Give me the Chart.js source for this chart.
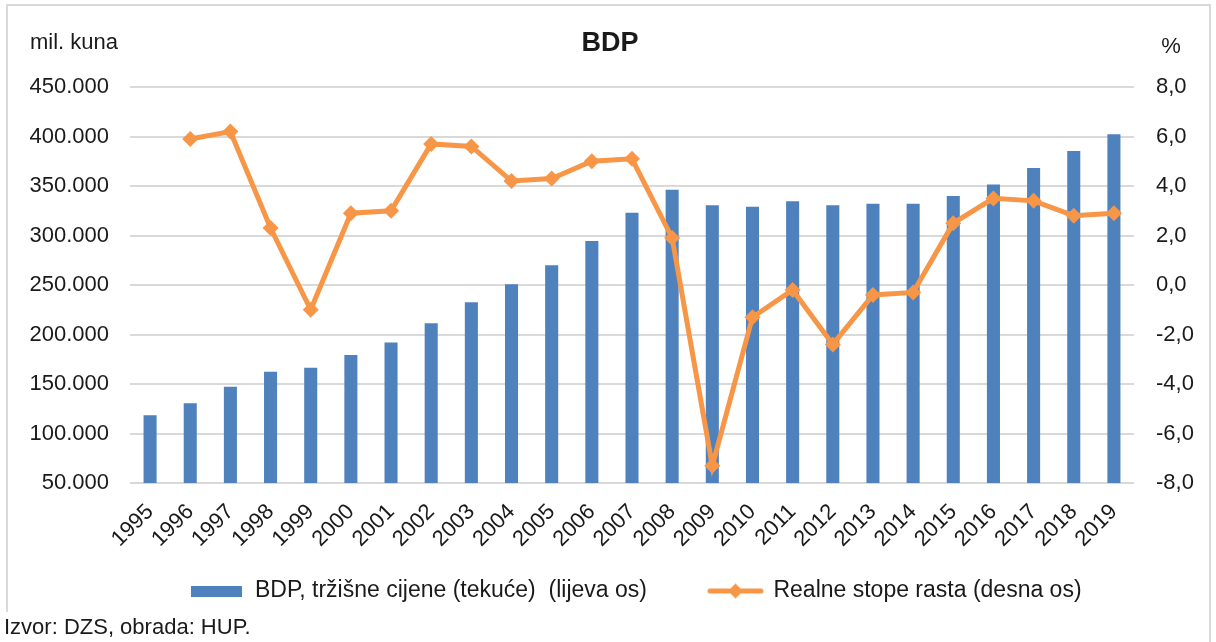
<!DOCTYPE html>
<html>
<head>
<meta charset="utf-8">
<title>BDP</title>
<script src="https://cdn.jsdelivr.net/npm/chart.js@4.4.1/dist/chart.umd.min.js"></script>
<style>
  html, body { margin: 0; padding: 0; background: #fff; }
  #wrap { width: 1216px; height: 642px; }
</style>
</head>
<body>
<div id="wrap"><canvas id="bdpChart" width="1216" height="642"></canvas></div>
<script>
// Data
const years = ['1995', '1996', '1997', '1998', '1999', '2000', '2001', '2002', '2003', '2004',
  '2005', '2006', '2007', '2008', '2009', '2010', '2011', '2012', '2013', '2014',
  '2015', '2016', '2017', '2018', '2019'];

// BDP, market prices (current), mil. kuna
const bdp = [118500, 130500, 147300, 162400, 166500, 179300, 192000, 211300, 232500, 250700,
  269900, 294400, 323000, 346300, 330500, 329100, 334500, 330500, 332100, 332000,
  339900, 351400, 368200, 385400, 402200];

// real growth rates, %
const growth = [null, 5.9, 6.2, 2.3, -1.0, 2.9, 3.0, 5.7, 5.6, 4.2,
  4.3, 5.0, 5.1, 1.9, -7.3, -1.3, -0.2, -2.4, -0.4, -0.3,
  2.5, 3.5, 3.4, 2.8, 2.9];

const leftRange = { min: 50000, max: 450000, step: 50000 };
const rightRange = { min: -8, max: 8, step: 2 };

const labels = {
  title: 'BDP',
  leftUnit: 'mil. kuna',
  rightUnit: '%',
  bars: 'BDP, tržišne cijene (tekuće)  (lijeva os)',
  line: 'Realne stope rasta (desna os)',
  source: 'Izvor: DZS, obrada: HUP.'
};

const BLUE = '#4F81BD';
const ORANGE = '#F79646';
const GRID = '#D9D9D9';
const TEXT = '#1a1a1a';
const FONT = "'Liberation Sans', Arial, sans-serif";

// legend swatches
function barSwatch() {
  const c = document.createElement('canvas');
  c.width = 51; c.height = 11;
  const g = c.getContext('2d');
  g.fillStyle = BLUE;
  g.fillRect(0, 0, 51, 11);
  return c;
}
function lineSwatch() {
  const c = document.createElement('canvas');
  c.width = 57; c.height = 17;
  const g = c.getContext('2d');
  g.strokeStyle = ORANGE;
  g.lineWidth = 5;
  g.lineCap = 'round';
  g.beginPath();
  g.moveTo(3, 8.5);
  g.lineTo(54, 8.5);
  g.stroke();
  g.fillStyle = ORANGE;
  g.beginPath();
  g.moveTo(28.5, 1);
  g.lineTo(36, 8.5);
  g.lineTo(28.5, 16);
  g.lineTo(21, 8.5);
  g.closePath();
  g.fill();
  return c;
}
const swatches = [barSwatch(), lineSwatch()];

const fmtThousands = v => String(v).replace(/\B(?=(\d{3})+(?!\d))/g, '.');
const fmtPercent = v => v.toFixed(1).replace('.', ',');

// frame, title, unit labels and source note; legend nudged to match the original
const decorations = {
  id: 'decorations',
  afterLayout(chart) {
    const lg = chart.legend;
    lg.left += 56;
    lg.top = 517.5;
    lg.bottom = lg.top + lg.height;
  },
  beforeDraw(chart) {
    const c = chart.ctx;
    c.save();
    c.fillStyle = '#fff';
    c.fillRect(0, 0, chart.width, chart.height);
    c.strokeStyle = GRID;
    c.lineWidth = 2;
    c.beginPath();
    c.moveTo(7, 612);
    c.lineTo(7, 5);
    c.lineTo(1210, 5);
    c.lineTo(1210, 642);
    c.stroke();
    c.restore();
  },
  afterDraw(chart) {
    const c = chart.ctx;
    c.save();
    c.fillStyle = TEXT;
    c.textBaseline = 'middle';
    c.font = 'bold 27px ' + FONT;
    c.textAlign = 'center';
    c.fillText(labels.title, 610, 44);
    c.font = '22px ' + FONT;
    c.textAlign = 'left';
    c.fillText(labels.leftUnit, 30, 43);
    c.textAlign = 'center';
    c.fillText(labels.rightUnit, 1171, 47);
    c.textAlign = 'left';
    c.fillText(labels.source, 4, 628);
    c.restore();
  }
};

const ctx = document.getElementById('bdpChart').getContext('2d');
const bdpChart = new Chart(ctx, {
  data: {
    labels: years,
    datasets: [
      {
        type: 'bar',
        label: labels.bars,
        data: bdp,
        yAxisID: 'y',
        backgroundColor: BLUE,
        borderWidth: 0,
        barPercentage: 1,
        categoryPercentage: 0.325,
        order: 1
      },
      {
        type: 'line',
        label: labels.line,
        data: growth,
        yAxisID: 'y1',
        borderColor: ORANGE,
        backgroundColor: ORANGE,
        borderWidth: 5,
        pointStyle: 'rectRot',
        pointRadius: 8,
        pointBorderWidth: 0,
        pointBackgroundColor: ORANGE,
        tension: 0,
        order: 0
      }
    ]
  },
  options: {
    responsive: false,
    animation: false,
    layout: { padding: { top: 87, left: 8, right: 8, bottom: 0 } },
    plugins: {
      title: { display: false },
      tooltip: { enabled: false },
      legend: {
        position: 'bottom',
        labels: {
          usePointStyle: true,
          pointStyleWidth: 53,
          boxHeight: 23,
          padding: 62,
          color: TEXT,
          font: { family: FONT, size: 23 },
          sort: (a, b) => a.datasetIndex - b.datasetIndex,
          generateLabels(chart) {
            const items = Chart.defaults.plugins.legend.labels.generateLabels(chart);
            items.forEach(it => { it.pointStyle = swatches[it.datasetIndex]; });
            return items;
          }
        }
      }
    },
    scales: {
      x: {
        grid: { display: false },
        border: { display: false },
        ticks: {
          autoSkip: false,
          minRotation: 45,
          maxRotation: 45,
          padding: 8,
          color: TEXT,
          font: { family: FONT, size: 22 }
        },
        afterFit(scale) { scale.height = 64; }
      },
      y: {
        position: 'left',
        min: leftRange.min,
        max: leftRange.max,
        border: { display: false },
        grid: { color: GRID, lineWidth: 2, drawTicks: false },
        ticks: {
          stepSize: leftRange.step,
          padding: 21,
          color: TEXT,
          font: { family: FONT, size: 22 },
          callback: v => fmtThousands(v)
        },
        afterFit(scale) { scale.width = 122; }
      },
      y1: {
        position: 'right',
        min: rightRange.min,
        max: rightRange.max,
        border: { display: false },
        grid: { display: false, drawTicks: false },
        ticks: {
          stepSize: rightRange.step,
          padding: 22,
          color: TEXT,
          font: { family: FONT, size: 22 },
          callback: v => fmtPercent(v)
        },
        afterFit(scale) { scale.width = 74; }
      }
    }
  },
  plugins: [decorations]
});
</script>
</body>
</html>
